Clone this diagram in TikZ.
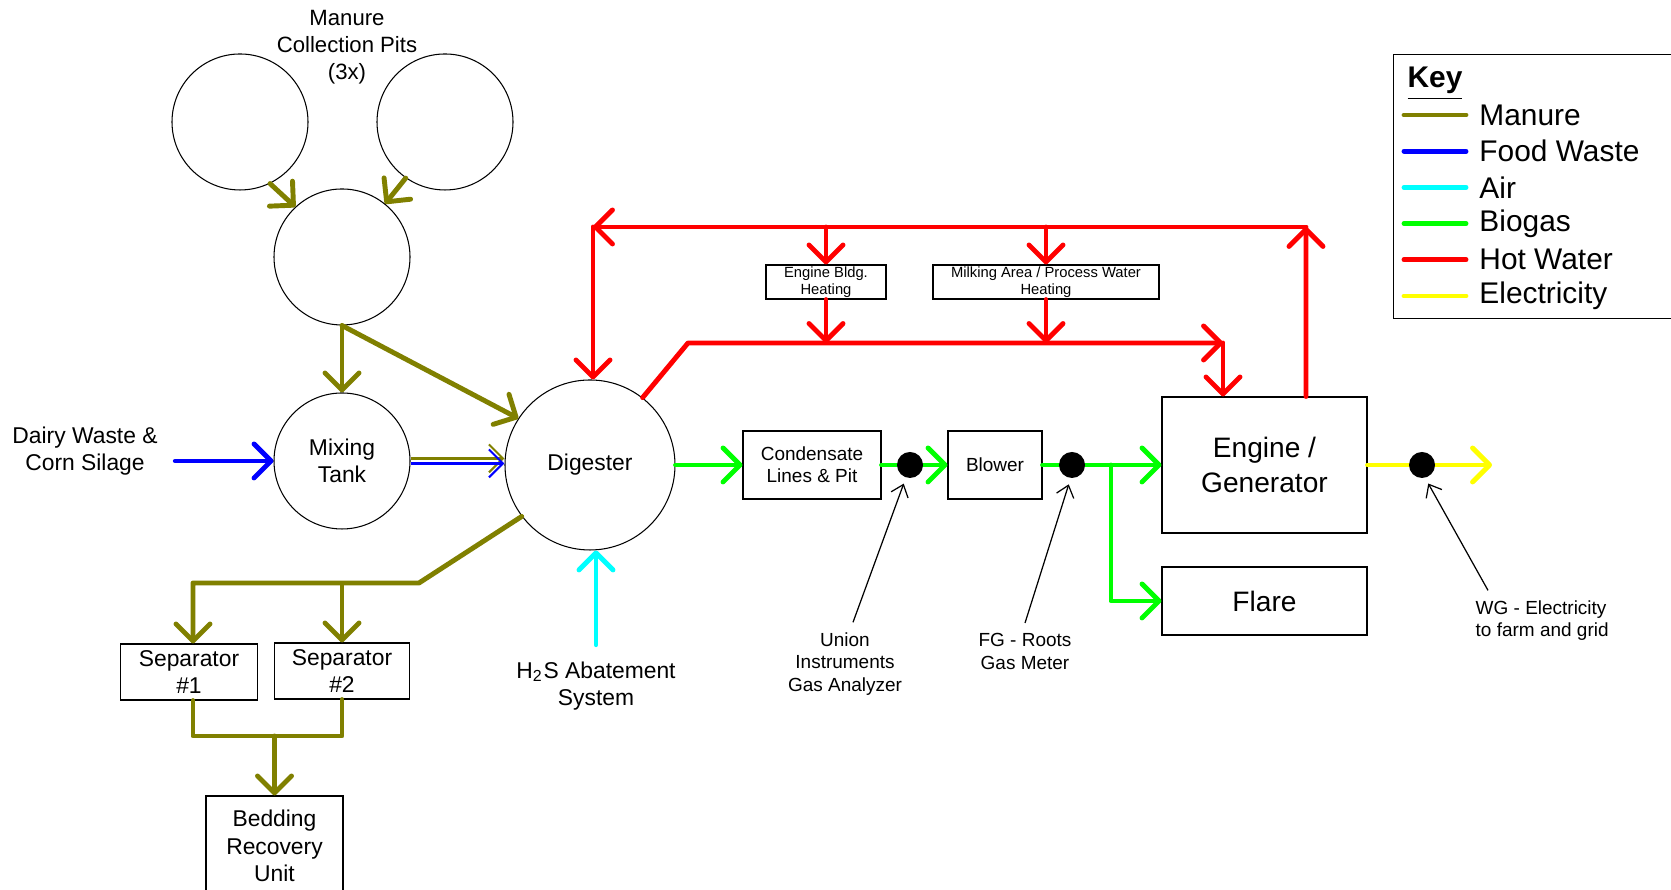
\documentclass[tikz,border=0pt]{standalone}
\usepackage{fontspec}
\setmainfont{Liberation Sans}
\usetikzlibrary{arrows.meta,positioning,calc}
\definecolor{admanureclr}{RGB}{128,128,0}
\definecolor{adfoodclr}{RGB}{0,0,255}
\definecolor{adairclr}{RGB}{0,255,255}
\definecolor{adgasclr}{RGB}{0,255,0}
\definecolor{adhotclr}{RGB}{255,0,0}
\definecolor{adpowerclr}{RGB}{255,255,0}
\tikzset{
  adtank/.style={draw, circle, line width=0.3pt, inner sep=0pt, minimum size=1.36cm, align=center, font=\fontsize{6.5}{7.6}\selectfont},
  adbox/.style={draw, rectangle, line width=0.3pt, inner sep=0pt, align=center, font=\fontsize{6.5}{7.9}\selectfont},
  adsmallbox/.style={adbox, font=\fontsize{5.4}{6.3}\selectfont},
  adtinybox/.style={adbox, font=\fontsize{4.2}{5}\selectfont},
  adbigbox/.style={adbox, font=\fontsize{8}{10}\selectfont},
  adlabel/.style={align=center, inner sep=1.7mm, font=\fontsize{6.5}{7.9}\selectfont},
  adnote/.style={align=center, inner sep=1mm, font=\fontsize{5.4}{6.3}\selectfont},
  adkeytext/.style={inner sep=0pt, font=\fontsize{8.5}{10}\selectfont},
  addot/.style={circle, fill=black, minimum size=2.6mm, inner sep=0pt},
  adflow/.style={line width=1.4pt, line cap=round, line join=round, -{Straight Barb[length=1.7mm, width=3.4mm, round]}},
  admanure/.style={adflow, draw=admanureclr},
  adfood/.style={adflow, draw=adfoodclr},
  adair/.style={adflow, draw=adairclr},
  adgas/.style={adflow, draw=adgasclr},
  adhot/.style={adflow, draw=adhotclr},
  adpower/.style={adflow, draw=adpowerclr},
  adthin/.style={line width=0.6pt, -{Straight Barb[length=1.4mm, width=2.8mm]}},
  adpointer/.style={line width=0.35pt, shorten >=0.6mm, -{Straight Barb[length=1.1mm, width=1.8mm]}},
  adkey/.style={line width=1.4pt, line cap=round},
}

\begin{document}
\begin{tikzpicture}
  \useasboundingbox (0,0) rectangle (16.71,8.90);

  \node[adtank] (pitA) at (2.40,7.68) {};
  \node[adtank] (pitB) at (4.45,7.68) {};
  \node[adtank] (pitC) at (3.42,6.33) {};
  \node[adlabel, inner sep=0pt, font=\fontsize{6.3}{7.7}\selectfont] (pits) at (3.47,8.43) {Manure\\Collection Pits\\(3x)};
  \node[adtank] (mix) at (3.42,4.29) {Mixing\\Tank};
  \node[adtank, minimum size=1.70cm] (dig) at (5.90,4.25) {Digester};
  \node[adlabel] (dairy) at (0.85,4.39) {Dairy Waste \&\\Corn Silage};
  \node[adlabel, inner sep=1.6mm] (h2s) at (5.96,2.04) {H\textsubscript{2}S Abatement\\System};

  \node[adbox, minimum width=1.37cm, minimum height=0.56cm] (sepA) at (1.89,2.18) {Separator\\\#1};
  \node[adbox, minimum width=1.35cm, minimum height=0.56cm] (sepB) at (3.42,2.19) {Separator\\\#2};
  \node[adbox, minimum width=1.37cm, minimum height=1.00cm] (bed) at (2.745,0.44) {Bedding\\Recovery\\Unit};

  \node[adsmallbox, minimum width=1.38cm, minimum height=0.68cm] (cond) at (8.12,4.25) {Condensate\\Lines \& Pit};
  \node[adsmallbox, minimum width=0.94cm, minimum height=0.68cm] (blower) at (9.95,4.25) {Blower};
  \node[adbigbox, minimum width=2.05cm, minimum height=1.36cm] (engine) at (12.645,4.25) {Engine /\\Generator};
  \node[adbigbox, minimum width=2.05cm, minimum height=0.68cm] (flare) at (12.645,2.89) {Flare};
  \node[adtinybox, minimum width=1.20cm, minimum height=0.34cm] (heatA) at (8.26,6.08) {Engine Bldg.\\Heating};
  \node[adtinybox, minimum width=2.26cm, minimum height=0.34cm] (heatB) at (10.46,6.08) {Milking Area / Process Water\\Heating};

  \node[adnote] (union) at (8.45,2.26) {Union\\Instruments\\Gas Analyzer};
  \node[adnote] (fg) at (10.25,2.385) {FG - Roots\\Gas Meter};
  \node[adnote, align=left, anchor=west] (wg) at (14.65,2.69) {WG - Electricity\\to farm and grid};

  \coordinate (sepbus) at (4.19,3.07);
  \coordinate (bedbus) at (2.745,1.54);
  \coordinate (hwTL) at (5.93,6.63);
  \coordinate (hwTR) at (13.06,6.63);
  \coordinate (hwBL) at (6.88,5.47);
  \coordinate (hwBR) at (12.23,5.47);
  \coordinate (gasjoin) at (11.11,4.25);
  \coordinate (elecend) at (14.92,4.25);

  \draw[admanure] (pitA.-64) -- (pitC.133);
  \draw[admanure] (pitB.235) -- (pitC.51);
  \draw[admanure] (pitC.south) -- (mix.north);
  \draw[admanure] (pitC.south) -- (dig.147);
  \draw[adthin, draw=admanureclr] ([yshift=0.25mm]mix.east) -- ([yshift=0.25mm]mix.east -| dig.west);
  \draw[adthin, draw=adfoodclr] ([yshift=-0.25mm]mix.east) -- ([yshift=-0.25mm]mix.east -| dig.west);
  \draw[admanure] (dig.217) -- (sepbus) -| ([xshift=0.4mm]sepA.north);
  \draw[admanure] (sepbus) -| (sepB.north);
  \draw[admanure, -] ([xshift=0.4mm]sepA.south) |- (bedbus);
  \draw[admanure, -] (sepB.south) |- (bedbus);
  \draw[admanure] (bedbus) -- (bed.north);

  \draw[adfood] (dairy.east |- mix.west) -- (mix.west);
  \draw[adair] (h2s.north) -- (h2s.north |- dig.south);

  \draw[adhot] ([xshift=4.15mm]engine.north) -- (hwTR);
  \draw[adhot] (hwTR) -- (hwTL);
  \draw[adhot] (hwTL) -- (hwTL |- dig.north);
  \draw[adhot] (heatA.north |- hwTL) -- (heatA.north);
  \draw[adhot] (heatB.north |- hwTL) -- (heatB.north);
  \draw[adhot] (heatA.south) -- (heatA.south |- hwBL);
  \draw[adhot] (heatB.south) -- (heatB.south |- hwBL);
  \draw[adhot] (dig.52) -- (hwBL) -- (hwBR);
  \draw[adhot] (hwBR) -- (hwBR |- engine.north);

  \draw[adgas] (dig.east) -- (cond.west);
  \draw[adgas] (cond.east) -- (blower.west);
  \draw[adgas] (blower.east) -- (engine.west);
  \draw[adgas] (gasjoin) |- (flare.west);
  \draw[adpower] (engine.east) -- (elecend);

  \node[addot] (dot1) at (9.10,4.25) {};
  \node[addot] (dot2) at (10.72,4.25) {};
  \node[addot] (dot3) at (14.22,4.25) {};

  \draw[adpointer] ([xshift=0.8mm]union.north) -- (dot1.-108);
  \draw[adpointer] (fg.north) -- (dot2.-96);
  \draw[adpointer] ([xshift=2.3mm]wg.north west) -- (dot3.-76);

  \node[draw, line width=0.3pt, minimum width=3.3cm, minimum height=2.64cm, anchor=south west] (keybox) at (13.93,5.71) {};
  \node[adkeytext, font=\fontsize{8.5}{10}\selectfont\bfseries] (keytitle) at (14.35,8.06) {\underline{Key}};
  \foreach \clr/\txt [count=\i from 0] in {admanureclr/Manure, adfoodclr/Food Waste, adairclr/Air, adgasclr/Biogas, adhotclr/Hot Water, adpowerclr/Electricity}
    \draw[adkey, draw=\clr] (14.04,7.75-0.362*\i) -- (14.66,7.75-0.362*\i) node[adkeytext, right=1.1mm] (key\i) {\txt};
\end{tikzpicture}
\end{document}
